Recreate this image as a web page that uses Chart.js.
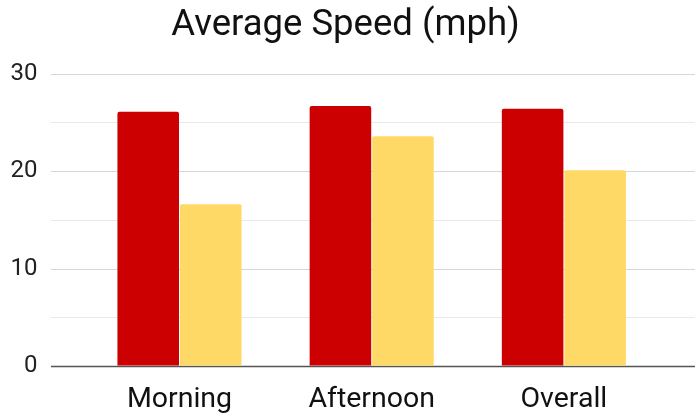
<!DOCTYPE html>
<html>
<head>
<meta charset="utf-8">
<script src="https://cdn.jsdelivr.net/npm/chart.js@4"></script>
<style>
  html, body { margin: 0; padding: 0; background: #fff; }
  #wrap { width: 695px; height: 417px; }
</style>
</head>
<body>
<div id="wrap"><canvas id="speedChart"></canvas></div>
<script>
// data
const categories = ['Morning', 'Afternoon', 'Overall'];
const firstSeries = [26.1, 26.7, 26.4];
const secondSeries = [16.6, 23.6, 20.1];
const yTicks = [0, 10, 20, 30];

// grid lines run past the plot area, as in the original
const wideGrid = {
  id: 'wideGrid',
  beforeDatasetsDraw(chart) {
    const y = chart.scales.y;
    const c = chart.ctx;
    c.save();
    for (let v = 0; v <= 30; v += 5) {
      const py = Math.round(y.getPixelForValue(v)) + 0.5;
      c.beginPath();
      c.lineWidth = v === 0 ? 1.5 : 1;
      c.strokeStyle = v === 0 ? '#555555' : (yTicks.includes(v) ? '#d6d6d6' : '#e9e9e9');
      c.moveTo(51, py);
      c.lineTo(chart.width, py);
      c.stroke();
    }
    c.restore();
  }
};

const ctx = document.getElementById('speedChart');

const data = {
  labels: categories,
  datasets: [{
    label: 'Series 1',
    data: firstSeries,
    backgroundColor: '#cc0000',
    borderRadius: { topLeft: 2, topRight: 2 },
    borderSkipped: 'bottom'
  }, {
    label: 'Series 2',
    data: secondSeries,
    backgroundColor: '#ffd966',
    borderRadius: { topLeft: 2, topRight: 2 },
    borderSkipped: 'bottom'
  }]
};

const config = {
  type: 'bar',
  data,
  plugins: [wideGrid],
  options: {
    responsive: true,
    maintainAspectRatio: false,
    animation: false,
    layout: { padding: { left: 10, right: 14, top: 0, bottom: 0 } },
    datasets: {
      bar: { categoryPercentage: 0.651, barPercentage: 0.984 }
    },
    plugins: {
      legend: { display: false },
      tooltip: { enabled: false },
      title: {
        display: true,
        text: 'Average Speed (mph)',
        color: '#111111',
        font: { family: 'Roboto', size: 36.5, weight: 'normal' },
        padding: { top: 4, bottom: 26 }
      }
    },
    scales: {
      x: {
        afterFit(s) { s.height = 51; },
        grid: { display: false, drawTicks: false },
        border: { display: false },
        ticks: {
          color: '#111111',
          padding: 17,
          font: { family: 'Roboto', size: 28.5 }
        }
      },
      y: {
        min: 0,
        max: 30,
        afterFit(s) { s.width = 73.4; },
        grid: {
          display: true,
          drawOnChartArea: false,
          drawTicks: true,
          tickLength: 46,
          tickColor: 'rgba(0,0,0,0)'
        },
        border: { display: false },
        ticks: {
          stepSize: 10,
          color: '#222222',
          padding: 0,
          font: { family: 'Roboto', size: 24 }
        }
      },
      // empty right-hand axis, only keeps the plot narrower than the grid
      yRight: {
        position: 'right',
        afterFit(s) { s.width = 21; },
        grid: { display: false, drawTicks: false },
        border: { display: false },
        ticks: { display: false }
      }
    }
  }
};

const speedChart = new Chart(ctx, config);
</script>
</body>
</html>
